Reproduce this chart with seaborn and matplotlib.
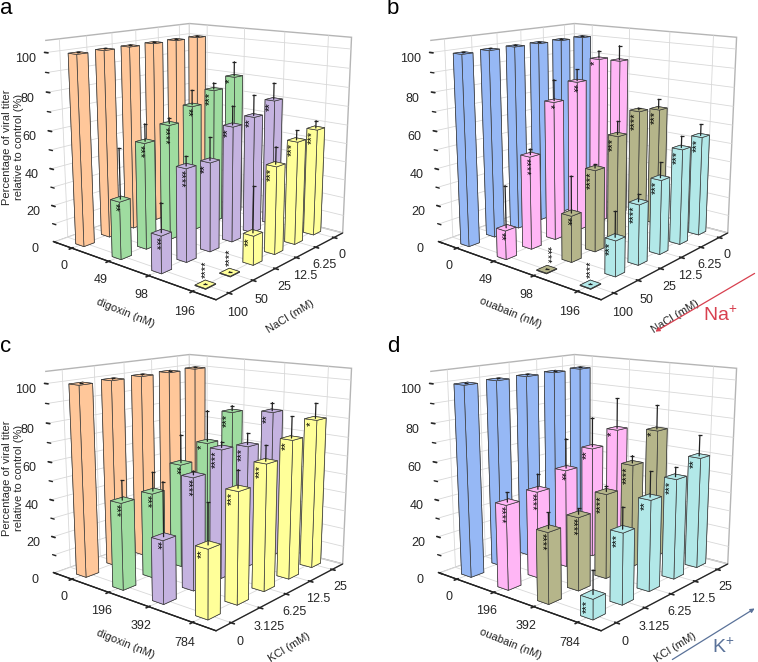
import matplotlib
matplotlib.use("Agg")
import matplotlib.pyplot as plt
import numpy as np
import seaborn as sns
from matplotlib.ticker import MultipleLocator

sns.set_theme(style="white")
plt.rcParams['font.family'] = ['Liberation Sans', 'DejaVu Sans']
plt.rcParams['mathtext.default'] = 'regular'

# panel a
a_drug = ["0", "49", "98", "196"]
a_salt = ["100", "50", "25", "12.5", "6.25", "0"]
a_vals = [[100, 100, 100, 100, 100, 100],
          [30, 56, 62, 69, 75, 80],
          [19, 48, 47, 62, 64, 70],
          [0.3, 0.3, 15, 46, 55, 58]]
a_errs = [[0.5, 0.5, 0.5, 0.5, 0.5, 0.5],
          [26, 9, 3, 8, 3.5, 8],
          [15, 5, 12, 10, 11, 9],
          [0.3, 0.3, 24, 9, 5, 4]]
a_star = [["", "", "", "", "", ""],
          [2, 3, 4, 2, 3, 1],
          [3, 4, 2, 2, 2, 2],
          [4, 4, 2, 3, 3, 3]]

# panel b
b_drug = ["0", "49", "98", "196"]
b_salt = ["100", "50", "25", "12.5", "6.25", "0"]
b_vals = [[100, 100, 100, 100, 100, 100],
          [15, 49, 74, 82, 92, 89],
          [0.3, 24, 43, 57, 67, 65],
          [0.3, 18, 31, 39, 51, 54]]
b_errs = [[0.5, 0.5, 0.5, 0.5, 0.5, 0.5],
          [22, 3, 11, 6, 4, 8],
          [0.3, 19, 2, 7, 1, 5],
          [0.3, 13, 4, 8, 6, 6]]
b_star = [["", "", "", "", "", ""],
          [2, 4, 1, 2, 1, 0],
          [4, 2, 4, 3, 4, 3],
          [4, 3, 4, 3, 3, 3]]

# panel c
c_drug = ["0", "196", "392", "784"]
c_salt = ["0", "3.125", "6.25", "12.5", "25"]
c_vals = [[100, 100, 100, 100, 100],
          [45, 45, 56, 64, 78],
          [32, 58, 68, 66, 81],
          [34, 56, 65, 73, 80]]
c_errs = [[0.5, 0.5, 0.5, 0.5, 0.5],
          [10, 10, 15, 17, 3],
          [27, 2, 3, 6, 4.5],
          [20, 9, 8, 11, 8]]
c_star = [["", "", "", "", ""],
          [3, 3, 2, 1, 3],
          [2, 4, 4, 3, 2],
          [2, 3, 3, 2, 1]]

# panel d
d_drug = ["0", "196", "392", "784"]
d_salt = ["0", "3.125", "6.25", "12.5", "25"]
d_vals = [[100, 100, 100, 100, 100],
          [44, 46, 53, 61, 68],
          [36, 38, 45, 56, 71],
          [10, 36, 47, 53, 60]]
d_errs = [[0.5, 0.5, 0.5, 0.5, 0.5],
          [5, 8, 16, 16, 17],
          [8, 3, 3, 4, 13],
          [12, 11, 13, 5, 11]]
d_star = [["", "", "", "", ""],
          [4, 4, 2, 2, 1],
          [4, 4, 4, 4, 1],
          [3, 3, 2, 3, 2]]

dig_colors = sns.color_palette(["#FFC79A", "#9FDCA0", "#C5B3E0", "#FFFF99"])
oua_colors = sns.color_palette(["#96B8F5", "#FFB6F5", "#B5B58A", "#B2E8E8"])


def draw_panel(pos, letter, lpos, drug, salt, vals, errs, stars, colors, drug_name, salt_name, show_z):
    ax = fig.add_axes(pos, projection="3d", computed_zorder=False)
    ax.patch.set_alpha(0)
    ni, nj = len(drug), len(salt)
    ax.set_proj_type("persp", focal_length=0.45)
    ax.view_init(elev=14, azim=-50)
    ax.set_box_aspect((1.0, 1, 0.97), zoom=1.06)
    ax.set_xlim(-0.5, ni - 0.5)
    ax.set_ylim(-0.5, nj - 0.5)
    ax.set_zlim(0, 106)

    for axis in (ax.xaxis, ax.yaxis, ax.zaxis):
        axis.set_pane_color((1, 1, 1, 1))
        axis.pane.set_edgecolor("#b5b5b5")
        axis.line.set_color("#222222")
        axis.line.set_linewidth(0.9)
        axis._axinfo["grid"]["color"] = "#d8d8d8"
        axis._axinfo["grid"]["linewidth"] = 0.6
    ax.zaxis._axinfo["juggled"] = (1, 0, 2)
    ax.set_xticks(range(ni), drug, fontsize=9)
    ax.set_yticks(range(nj), salt, fontsize=9)
    ax.set_zticks([0, 20, 40, 60, 80, 100])
    ax.zaxis.set_minor_locator(MultipleLocator(10))
    ax.tick_params(axis="z", labelsize=9, pad=0)
    ax.tick_params(axis="x", pad=-2)
    ax.tick_params(axis="y", pad=-2)
    ax.text(0.68 * ni, -0.5 - 0.32 * nj, 0, drug_name, zdir="x", fontsize=8, color="#222222",
            ha="center", va="center")
    ax.text(ni - 0.5 + 0.31 * ni, 0.07 * nj - 0.5, 0, salt_name, zdir="y", fontsize=8, color="#222222",
            ha="center", va="center")
    if show_z:
        fig.text(13 / 758, pos[1] + 0.5 * pos[3] - 0.002, "Percentage of viral titer\nrelative to control (%)",
                 rotation=90, fontsize=8, ha="center", va="center")

    wx = 0.23 if nj == 6 else 0.27
    wy = 0.40 if nj == 6 else 0.41
    order = 10
    for j in range(nj - 1, -1, -1):
        for i in range(ni):
            h, e, s = vals[i][j], errs[i][j], stars[i][j]
            ax.bar3d(i - wx / 2, j - wy / 2, 0, wx, wy, h, color=colors[i], edgecolor="#3c3c3c",
                     linewidth=0.5, shade=False, zorder=order)
            ax.plot([i, i], [j, j], [h, h + e], color="#222222", lw=0.9, zorder=order + 1)
            ax.plot([i], [j], [h + e], marker="_", ms=3.5, mew=0.9, color="#222222", zorder=order + 1)
            if s:
                if h < 2:
                    ax.text(i, j, h + 3, "*" * s, zdir="z", fontsize=8, color="black",
                            ha="center", va="bottom", zorder=order + 2)
                else:
                    ax.text(i, j - wy / 2, h - 1, "*" * s, zdir="z", fontsize=8, color="black",
                            ha="center", va="top", zorder=order + 2)
            order += 3
    fig.text(lpos[0] / 758, 1 - lpos[1] / 662, letter, fontsize=16, color="black", va="center")
    return ax


fig = plt.figure(figsize=(7.58, 6.62), dpi=100)
draw_panel([0.009, 0.53, 0.5, 0.5], "a", (0, 9), a_drug, a_salt, a_vals, a_errs, a_star, dig_colors,
           "digoxin (nM)", "NaCl (mM)", True)
draw_panel([0.517, 0.53, 0.5, 0.5], "b", (387, 9), b_drug, b_salt, b_vals, b_errs, b_star, oua_colors,
           "ouabain (nM)", "NaCl (mM)", False)
draw_panel([0.009, 0.03, 0.5, 0.5], "c", (0, 347), c_drug, c_salt, c_vals, c_errs, c_star, dig_colors,
           "digoxin (nM)", "KCl (mM)", True)
draw_panel([0.517, 0.03, 0.5, 0.5], "d", (387, 347), d_drug, d_salt, d_vals, d_errs, d_star, oua_colors,
           "ouabain (nM)", "KCl (mM)", False)

fig.add_artist(plt.Annotation("", xy=(653 / 758, 1 - 333 / 662), xytext=(757 / 758, 1 - 272 / 662),
                              xycoords="figure fraction", textcoords="figure fraction",
                              arrowprops=dict(arrowstyle="-|>", color="#d8404f", lw=0.9, mutation_scale=6)))
fig.add_artist(plt.Annotation("", xy=(757 / 758, 1 - 607 / 662), xytext=(670 / 758, 1 - 661 / 662),
                              xycoords="figure fraction", textcoords="figure fraction",
                              arrowprops=dict(arrowstyle="-|>", color="#5a7299", lw=0.9, mutation_scale=6)))
fig.text(720 / 758, 1 - 315 / 662, "Na$^{+}$", fontsize=14, color="#d8404f", ha="center", va="center")
fig.text(723 / 758, 1 - 647 / 662, "K$^{+}$", fontsize=14, color="#5a7299", ha="center", va="center")

fig.savefig("out.png", dpi=100)
